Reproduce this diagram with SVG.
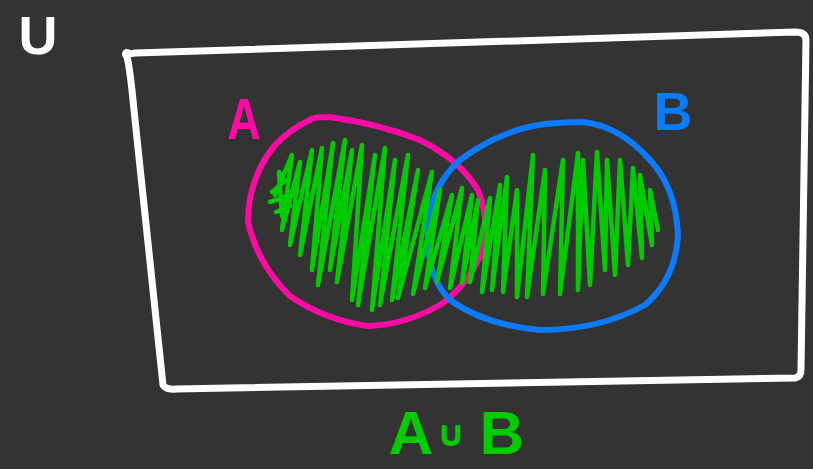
<svg xmlns="http://www.w3.org/2000/svg" width="813" height="469" viewBox="0 0 813 469">
<style>
.s{fill:none;stroke-linecap:round;stroke-linejoin:round}
.w{stroke:#ffffff;stroke-width:7}
.p{stroke:#ff0aa5;stroke-width:6}
.b{stroke:#0a7bff;stroke-width:6}
.g{stroke:#00cc00;stroke-width:4.5}
.t{font-family:"Liberation Sans","DejaVu Sans",sans-serif;font-weight:bold;text-anchor:middle}
</style>
<rect width="813" height="469" fill="#333333"/>
<g id="universe">
<path class="s w" d="M127,57 Q130,68 134,110 L163,385 Q166,390 176,389 L795,378 Q801,377 801,370 L806,40 Q806,32 795,32 L135,53 Q127,54 127,56"/>
<circle cx="127" cy="54" r="5" fill="#ffffff"/>
<text class="t" x="38" y="54" font-size="54" fill="#ffffff">U</text>
</g>
<g id="setA">
<path class="s p" d="M310,120 Q312,117 330,117 Q380,124 420,140 Q460,160 478,190 Q490,220 482,252 Q468,285 440,305 Q405,325 368,326 Q325,320 290,296 Q258,265 248,222 Q248,178 275,145 Q292,128 310,120"/>
<text class="t" x="244" y="139" font-size="58" fill="#ff0aa5" transform="translate(244 0) scale(0.8 1) translate(-244 0)">A</text>
</g>
<g id="setB">
<path class="s b" d="M583,122 Q620,126 650,160 Q676,188 678,235 Q676,278 645,305 Q600,330 540,330 Q485,325 450,300 Q425,275 428,225 Q432,185 460,160 Q500,130 545,124 Q565,122 583,122"/>
<text class="t" x="673" y="130" font-size="54" fill="#0a7bff">B</text>
</g>
<g id="union">
<path class="s g" stroke-width="9" d="M272,192 L286,180 M270,202 L288,196 M276,212 L290,206 M279,172 L282,216"/>
<polyline class="s g" points="275,195 292,155 282,230 300,162 290,245 312,150 300,255 322,148 312,270 333,143 318,285 345,140 330,270 352,150 337,282 362,145 352,300 375,155 358,305 385,148 372,310 395,160 380,305 408,155 392,300 418,170 398,298 432,172 413,294 440,190 425,288 452,195 437,282 462,188 450,288 472,195 462,283 478,200 470,282 490,198 482,292 500,185 492,290 507,177 503,292 517,190 517,297 533,155 527,297 545,170 543,294 563,160 560,294 578,153 578,290 583,160 590,285 597,152 605,270 607,160 615,275 620,160 628,265 633,168 642,258 640,175 652,245 650,190 658,230 652,200"/>
<text class="t" fill="#00cc00" font-size="62"><tspan x="411" y="454">A</tspan><tspan x="451" y="446" font-size="36">∪</tspan><tspan x="502" y="454">B</tspan></text>
</g>
</svg>
